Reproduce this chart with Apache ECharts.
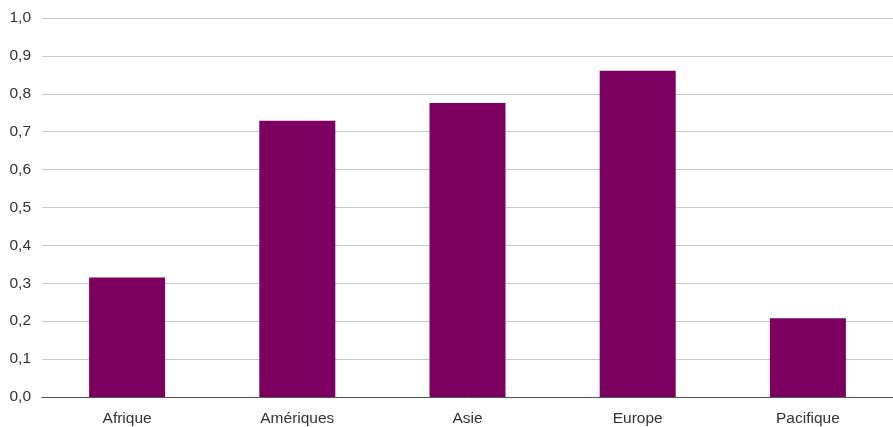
<!DOCTYPE html>
<html><head><meta charset="utf-8">
<script src="https://cdn.jsdelivr.net/npm/echarts@6/dist/echarts.min.js"></script>
<style>html,body{margin:0;padding:0;background:#fff}#c{width:893px;height:427px}</style>
</head><body><div id="c"></div>
<script>
const categories = ["Afrique", "Amériques", "Asie", "Europe", "Pacifique"];
const values = [0.315, 0.729, 0.776, 0.861, 0.208];
const yTicks = [0, 0.1, 0.2, 0.3, 0.4, 0.5, 0.6, 0.7, 0.8, 0.9, 1.0];

const chart = echarts.init(document.getElementById('c'), null, {renderer: 'canvas'});
const font = '"Liberation Sans", Arial, sans-serif';
chart.setOption({
  animation: false,
  grid: {left: 42, right: -5, top: 18, bottom: 30, containLabel: false},
  xAxis: {
    type: 'category', data: categories,
    axisLine: {lineStyle: {color: '#555', width: 1}},
    axisTick: {show: false},
    axisLabel: {color: '#333', fontSize: 15.5, fontFamily: font, margin: 14}
  },
  yAxis: {
    type: 'value', min: yTicks[0], max: yTicks[yTicks.length - 1], interval: 0.1,
    axisLine: {show: false}, axisTick: {show: false},
    splitLine: {lineStyle: {color: '#c8c8c8', width: 1}},
    axisLabel: {color: '#333', fontSize: 15.5, fontFamily: font, margin: 11,
      padding: [3, 0, 0, 0],
      formatter: v => v.toFixed(1).replace('.', ',')}
  },
  series: [{
    type: 'bar', data: values, barWidth: 76,
    itemStyle: {color: '#7b0060'}
  }]
});
</script></body></html>
